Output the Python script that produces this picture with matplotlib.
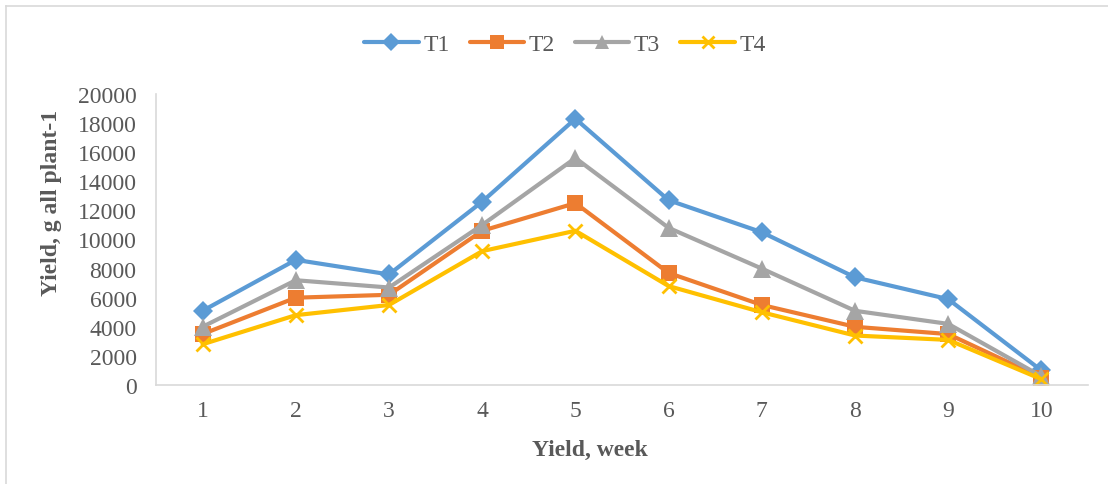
import matplotlib
matplotlib.use("Agg")
import matplotlib.pyplot as plt
from matplotlib.lines import Line2D

weeks = [1, 2, 3, 4, 5, 6, 7, 8, 9, 10]
t1 = [5100, 8600, 7600, 12600, 18300, 12700, 10500, 7400, 5900, 1000]
t2 = [3500, 6000, 6200, 10600, 12500, 7700, 5500, 4000, 3500, 500]
t3 = [4000, 7200, 6700, 11000, 15600, 10800, 8000, 5100, 4200, 600]
t4 = [2800, 4800, 5500, 9200, 10600, 6800, 5000, 3400, 3100, 400]
yticks = list(range(0, 20001, 2000))

plt.rcParams['font.family'] = ['Liberation Serif', 'DejaVu Serif']
W, H = 1108, 485
fig = plt.figure(figsize=(W / 100, H / 100), dpi=100)
ax = fig.add_axes([156 / W, 1 - 386 / H, (1088 - 156) / W, (386 - 95) / H])

txt = '#595959'
FS = 17
series = [
    ('T1', t1, '#5b9bd5', 'D', 10.5),
    ('T2', t2, '#ed7d31', 's', 12),
    ('T3', t3, '#a5a5a5', '^', 12.5),
    ('T4', t4, '#ffc000', 'x', 10.5),
]
handles = []
for name, vals, col, mk, ms in series:
    kw = dict(markeredgewidth=2) if mk == 'x' else dict(markeredgewidth=0)
    ax.plot(weeks, vals, color=col, lw=3.0, marker=mk, ms=ms,
            markerfacecolor=col, markeredgecolor=col, solid_capstyle='round', **kw)
    handles.append(Line2D([0], [0], color=col, lw=3.0, marker=mk, ms=ms * 0.85,
                          markerfacecolor=col, markeredgecolor=col,
                          solid_capstyle='round', **kw))

ax.set_xlim(0.5, 10.5)
ax.set_ylim(0, 20000)
ax.set_xticks(weeks)
ax.set_xticklabels([str(w) for w in weeks])
ax.set_yticks(yticks)
ax.set_yticklabels([str(v) for v in yticks])
ax.tick_params(length=0, labelsize=FS, colors=txt)
ax.tick_params(axis='y', pad=14)
ax.tick_params(axis='x', pad=11)
for s in ['top', 'right']:
    ax.spines[s].set_visible(False)
for s in ['left', 'bottom']:
    ax.spines[s].set_color('#d9d9d9')
    ax.spines[s].set_linewidth(1.2)

fig.text(590 / W, 1 - 450 / H, 'Yield, week', ha='center', va='center',
         fontsize=FS, fontweight='bold', color=txt)
fig.text(52 / W, 1 - 203 / H, 'Yield, g all plant-1', ha='center', va='center',
         rotation=90, fontsize=FS, fontweight='bold', color=txt)

fig.legend(handles, [s[0] for s in series], loc='center',
           bbox_to_anchor=(565 / W, 1 - 45 / H), ncol=4, frameon=False,
           fontsize=FS, labelcolor=txt, handlelength=2.3, columnspacing=0.85,
           handletextpad=0.2)

# outer chart border
fig.add_artist(Line2D([6 / W, 1], [1 - 7 / H, 1 - 7 / H], color='#d9d9d9', lw=1.2))
fig.add_artist(Line2D([6 / W, 6 / W], [0, 1 - 7 / H], color='#d9d9d9', lw=1.2))

fig.savefig('out.png', dpi=100)
